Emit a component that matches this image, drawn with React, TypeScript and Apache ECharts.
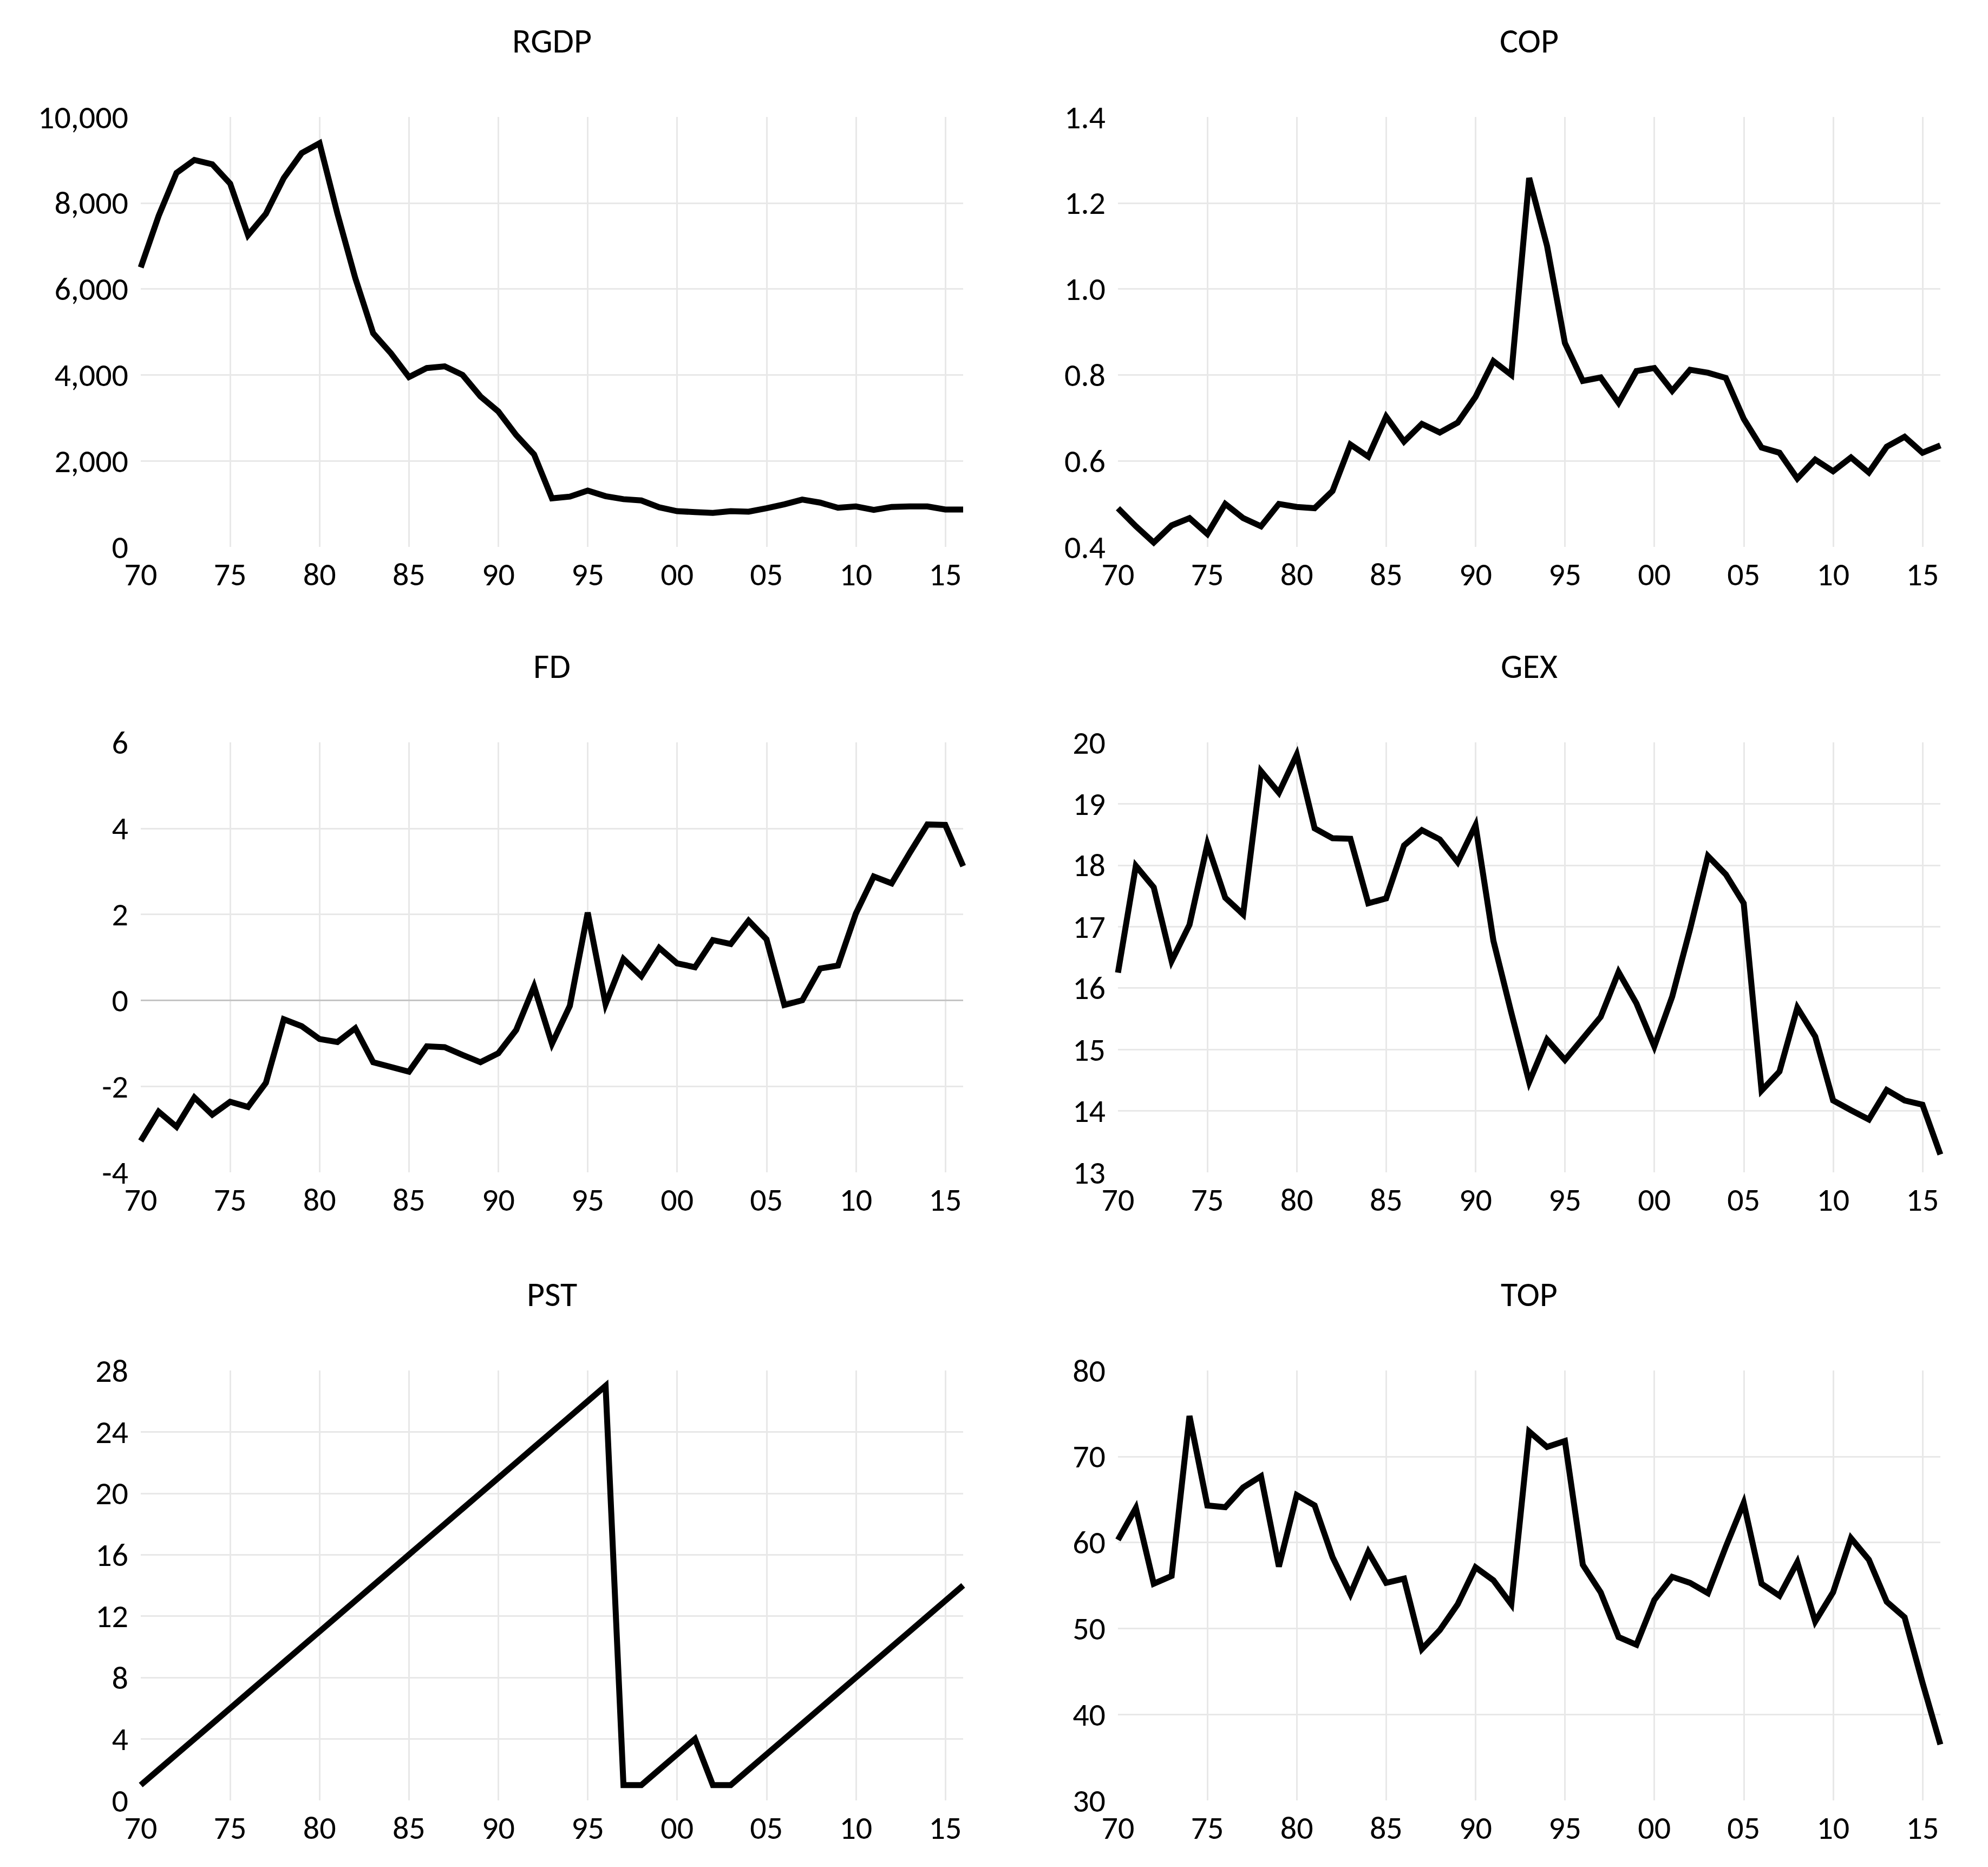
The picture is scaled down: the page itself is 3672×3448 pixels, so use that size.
import React, { useEffect, useRef } from "react";
import * as echarts from "echarts";

const YEARS = [
  1970, 1971, 1972, 1973, 1974, 1975, 1976, 1977, 1978, 1979,
  1980, 1981, 1982, 1983, 1984, 1985, 1986, 1987, 1988, 1989,
  1990, 1991, 1992, 1993, 1994, 1995, 1996, 1997, 1998, 1999,
  2000, 2001, 2002, 2003, 2004, 2005, 2006, 2007, 2008, 2009,
  2010, 2011, 2012, 2013, 2014, 2015, 2016,
];

const RGDP = [
  6500, 7700, 8700, 9000, 8900, 8450, 7250, 7750, 8580, 9160,
  9390, 7750, 6250, 4970, 4500, 3950, 4160, 4200, 4000, 3500,
  3150, 2600, 2150, 1130, 1170, 1310, 1180, 1110, 1080, 920,
  830, 810, 790, 830, 820, 900, 990, 1100, 1030, 910,
  940, 860, 930, 940, 940, 870, 870,
];

const COP = [
  0.49, 0.448, 0.41, 0.45, 0.467, 0.43, 0.5, 0.467, 0.448, 0.5,
  0.493, 0.49, 0.53, 0.638, 0.61, 0.703, 0.645, 0.686, 0.666, 0.689,
  0.749, 0.832, 0.8, 1.258, 1.1, 0.874, 0.786, 0.794, 0.735, 0.809,
  0.816, 0.763, 0.812, 0.805, 0.793, 0.698, 0.631, 0.619, 0.559, 0.603,
  0.576, 0.608, 0.573, 0.633, 0.656, 0.619, 0.636,
];

const FD = [
  -3.27, -2.59, -2.94, -2.26, -2.66, -2.36, -2.48, -1.92, -0.44, -0.6,
  -0.9, -0.97, -0.65, -1.44, -1.55, -1.66, -1.07, -1.09, -1.27, -1.44,
  -1.23, -0.69, 0.32, -1.01, -0.13, 2.04, -0.09, 0.96, 0.56, 1.22,
  0.86, 0.77, 1.4, 1.31, 1.85, 1.42, -0.11, 0.0, 0.74, 0.81,
  2.02, 2.88, 2.72, 3.42, 4.09, 4.08, 3.12,
];

const GEX = [
  16.25, 17.99, 17.64, 16.44, 17.03, 18.34, 17.47, 17.2, 19.53, 19.18,
  19.8, 18.6, 18.44, 18.43, 17.38, 17.46, 18.32, 18.57, 18.42, 18.05,
  18.65, 16.77, 15.6, 14.47, 15.16, 14.83, 15.18, 15.53, 16.26, 15.75,
  15.05, 15.86, 16.96, 18.15, 17.85, 17.38, 14.33, 14.64, 15.68, 15.21,
  14.17, 14.01, 13.86, 14.34, 14.17, 14.1, 13.29,
];

const PST = [
  1, 2, 3, 4, 5, 6, 7, 8, 9, 10,
  11, 12, 13, 14, 15, 16, 17, 18, 19, 20,
  21, 22, 23, 24, 25, 26, 27, 1, 1, 2,
  3, 4, 1, 1, 2, 3, 4, 5, 6, 7,
  8, 9, 10, 11, 12, 13, 14,
];

const TOP = [
  60.3, 64.0, 55.2, 56.1, 74.7, 64.3, 64.1, 66.4, 67.7, 57.2,
  65.5, 64.3, 58.3, 54.0, 58.9, 55.3, 55.8, 47.6, 49.8, 52.8,
  57.1, 55.6, 52.8, 72.9, 71.1, 71.8, 57.4, 54.2, 49.0, 48.1,
  53.3, 56.0, 55.3, 54.1, 59.5, 64.6, 55.2, 53.8, 57.7, 50.8,
  54.2, 60.5, 58.0, 53.1, 51.3, 43.7, 36.5,
];

const PANEL_TITLES = ["RGDP", "COP", "FD", "GEX", "PST", "TOP"];
const PANEL_VALUES = [RGDP, COP, FD, GEX, PST, TOP];
const Y_MIN = [0, 0.4, -4, 13, 0, 30];
const Y_MAX = [10000, 1.4, 6, 20, 28, 80];
const Y_STEP = [2000, 0.2, 2, 1, 4, 10];
const X_MIN = 1970;
const X_MAX = 2016;
const X_STEP = 5;

const FONT = "Carlito, Calibri, Lato, sans-serif";
const COL_LEFT = [260, 2065];
const ROW_TOP = [216, 1371, 2531];
const GRID_W = 1519;
const GRID_H = 794;
const GRID_COLOR = "#e8e8e8";

function yFormatter(idx: number) {
  return (v: number) => {
    if (idx === 0) return Math.round(v).toLocaleString("en-US");
    if (idx === 1) return v.toFixed(1);
    return String(Math.round(v));
  };
}

export default function App() {
  const ref = useRef<HTMLDivElement>(null);

  useEffect(() => {
    if (!ref.current) return;
    const chart = echarts.init(ref.current, undefined, { renderer: "svg" });

    const grids: any[] = [];
    const xAxes: any[] = [];
    const yAxes: any[] = [];
    const series: any[] = [];
    const titles: any[] = [];

    PANEL_TITLES.forEach((name, i) => {
      const col = i % 2;
      const row = Math.floor(i / 2);
      const left = COL_LEFT[col];
      const top = ROW_TOP[row];
      grids.push({ left, top, width: GRID_W, height: GRID_H, containLabel: false });
      titles.push({
        text: name,
        left: left + GRID_W / 2,
        top: top - 141,
        textAlign: "center",
        textVerticalAlign: "middle",
        padding: 0,
        textStyle: { fontFamily: FONT, fontSize: 64, fontWeight: "normal", color: "#000" },
      });
      xAxes.push({
        type: "value",
        gridIndex: i,
        min: X_MIN,
        max: X_MAX,
        interval: X_STEP,
        axisLine: { show: false },
        axisTick: { show: false },
        axisLabel: {
          show: true,
          margin: 20,
          fontFamily: FONT,
          fontSize: 60,
          color: "#000",
          showMaxLabel: false,
          formatter: (v: number) => (v === X_MAX ? "" : String(v % 100).padStart(2, "0")),
        },
        splitLine: {
          show: true,
          showMinLine: false,
          showMaxLine: false,
          lineStyle: { color: GRID_COLOR, width: 3 },
        },
      });
      yAxes.push({
        type: "value",
        gridIndex: i,
        min: Y_MIN[i],
        max: Y_MAX[i],
        interval: Y_STEP[i],
        axisLine: { show: false },
        axisTick: { show: false },
        axisLabel: {
          margin: 23,
          fontFamily: FONT,
          fontSize: 60,
          color: "#000",
          padding: [0, 0, 8, 0],
          formatter: yFormatter(i),
        },
        splitLine: {
          show: true,
          showMinLine: false,
          showMaxLine: false,
          lineStyle: { color: GRID_COLOR, width: 3 },
        },
      });
      const s: any = {
        type: "line",
        name,
        xAxisIndex: i,
        yAxisIndex: i,
        data: YEARS.map((y, k) => [y, PANEL_VALUES[i][k]]),
        showSymbol: false,
        symbol: "none",
        z: 10,
        lineStyle: { color: "#000", width: 11, join: "miter" },
        itemStyle: { color: "#000" },
      };
      if (name === "FD") {
        s.markLine = {
          silent: true,
          symbol: "none",
          label: { show: false },
          lineStyle: { color: "#c4c4c4", width: 3, type: "solid" },
          data: [{ yAxis: 0 }],
        };
      }
      series.push(s);
    });

    chart.setOption({
      animation: false,
      backgroundColor: "#ffffff",
      title: titles,
      grid: grids,
      xAxis: xAxes,
      yAxis: yAxes,
      series,
    });

    return () => chart.dispose();
  }, []);

  return (
    <div
      ref={ref}
      style={{ position: "absolute", left: 0, top: 0, width: 3672, height: 3448 }}
    />
  );
}
